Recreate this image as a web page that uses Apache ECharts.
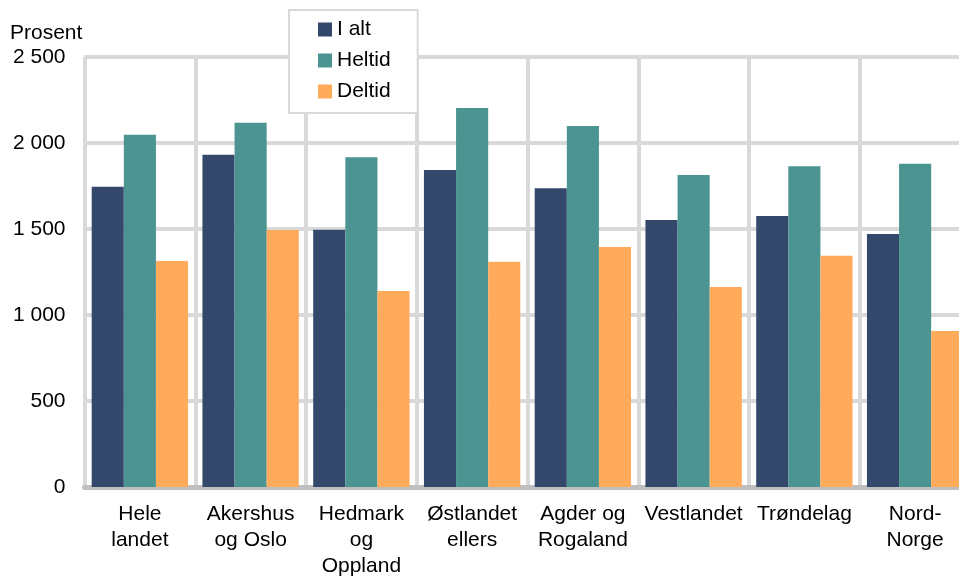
<!DOCTYPE html>
<html>
<head>
<meta charset="utf-8">
<script src="https://cdn.jsdelivr.net/npm/echarts@6/dist/echarts.min.js"></script>
<style>
html,body{margin:0;padding:0;background:#fff;}
#chart{width:959px;height:578px;}
</style>
</head>
<body>
<div id="chart"></div>
<script>
const categories = ["Hele\nlandet", "Akershus\nog Oslo", "Hedmark\nog\nOppland", "Østlandet\nellers", "Agder og\nRogaland", "Vestlandet", "Trøndelag", "Nord-\nNorge"];
const seriesNames = ["I alt", "Heltid", "Deltid"];
const iAlt   = [1746, 1932, 1495, 1843, 1737, 1552, 1576, 1471];
const heltid = [2048, 2118, 1917, 2203, 2099, 1814, 1865, 1880];
const deltid = [1314, 1494, 1140, 1310, 1395, 1163, 1345, 907];
const yTicks = [0, 500, 1000, 1500, 2000, 2500];
const colors = ["#34486b", "#4b9491", "#ffab5b"];

const FONT = "Liberation Sans, Arial, sans-serif";
const FS = 21;
const chart = echarts.init(document.getElementById('chart'));
function fmt(v){ return String(v).replace(/\B(?=(\d{3})+(?!\d))/g, ' '); }

const values = [iAlt, heltid, deltid];
chart.setOption({
  animation: false,
  textStyle: { fontFamily: FONT },
  title: {
    text: "Prosent", left: 10, top: 23, padding: 0,
    textStyle: { fontFamily: FONT, fontSize: FS, fontWeight: 'normal', color: '#000' }
  },
  legend: {
    orient: 'vertical', left: 289, top: 10,
    data: seriesNames,
    itemWidth: 14, itemHeight: 14, itemGap: 10,
    icon: 'rect',
    padding: [9, 27, 11, 29],
    backgroundColor: '#fff',
    borderColor: '#d9d9d9', borderWidth: 2,
    textStyle: { fontFamily: FONT, fontSize: FS, color: '#000' }
  },
  grid: { left: 84.5, top: 57, width: 886, bottom: 91, containLabel: false, outerBoundsMode: 'none' },
  xAxis: {
    type: 'category', data: categories,
    axisLine: { show: true, lineStyle: { color: '#bfbfbf', width: 5 } },
    axisTick: { show: false },
    splitLine: { show: true, interval: 0, lineStyle: { color: '#d9d9d9', width: 4 } },
    axisLabel: { interval: 0, margin: 14, fontSize: FS, color: '#000', lineHeight: 26, fontFamily: FONT }
  },
  yAxis: {
    type: 'value', min: yTicks[0], max: yTicks[yTicks.length-1], interval: 500,
    axisLine: { show: false }, axisTick: { show: false },
    splitLine: { show: true, lineStyle: { color: '#d9d9d9', width: 4 } },
    axisLabel: { margin: 19, fontSize: FS, color: '#000', fontFamily: FONT, formatter: fmt }
  },
  series: seriesNames.map((n, i) => ({
    name: n, type: 'bar', data: values[i],
    barGap: '0%', barCategoryGap: '13%',
    itemStyle: { color: colors[i] }
  }))
});
</script>
</body>
</html>
